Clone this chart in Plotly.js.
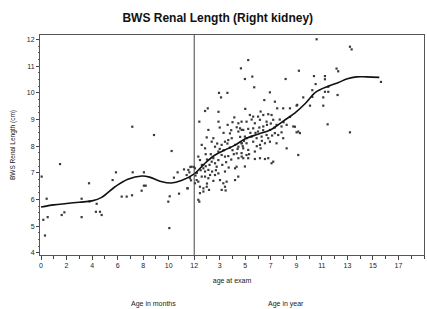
<!DOCTYPE html>
<html>
<head>
<meta charset="utf-8">
<script src="https://cdn.plot.ly/plotly-3.0.1.min.js"></script>
<style>html,body{margin:0;padding:0;background:#fff;}#chart{width:427px;height:309px;}</style>
</head>
<body>
<div id="chart"></div>
<script>
// x scale: months 0-12, then 11 + years
const tickVals = [0,2,4,6,8,10,12,14,16,18,20,22,24,26,28];
const tickText = ['0','2','4','6','8','10','12','3','5','7','9','11','13','15','17'];

const ageX = [
 0.05,1.49,0.44,0.18,0.52,0.31,1.62,1.83,3.18,3.18,3.76,3.8,4.36,4.3,4.62,4.75,5.61,5.87,6.32,6.71,
 7.13,7.15,7.18,7.88,8.06,8.2,8.06,8.85,9.97,10.08,10.05,10.23,10.41,10.7,10.81,11.2,11.49,11.62,11.7,11.75,11.98,
 13.94,14.6,14.1,12.85,13.06,12.4,13.9,13.9,15.14,14.62,15.46,15.33,15.59,15.72,13.11,14.8,15.46,12.98,13.37,14.41,
 14.67,14.94,12.59,12.85,13.63,14.15,15.2,15.46,15.72,13.89,14.15,14.41,14.67,12.32,12.45,13.37,13.63,13.76,13.89,15.33,
 15.46,15.72,15.2,11.8,12.06,11.54,12.72,12.85,13.11,14.41,12.59,12.85,13.11,13.24,13.63,13.89,11.67,11.41,12.19,12.32,
 14.02,14.28,14.54,15.2,11.46,12.06,12.45,12.72,12.98,13.16,14.15,14.41,12.72,12.45,14.46,12.32,12.4,15.45,15.32,
 12.6,13.0,13.3,13.5,14.0,14.3,14.8,15.0,14.6,13.8,14.9,15.6,15.9,
 16.23,15.66,15.97,16.55,16.7,17.93,17.49,18.32,19.16,20.2,18.5,18.97,19.5,20.07,16.36,16.62,17.0,17.41,17.8,18.06,
 15.71,16.1,16.75,17.15,17.67,18.19,18.45,18.84,19.24,19.76,20.15,15.84,16.23,16.62,17.0,17.41,17.93,18.32,18.58,18.84,
 15.97,16.49,16.89,17.28,17.67,15.71,16.1,16.62,17.15,17.54,17.93,18.45,18.97,15.84,16.23,16.75,17.2,15.71,16.1,19.24,
 15.84,16.23,16.75,17.15,17.54,17.8,18.06,18.19,15.97,20.15,20.28,
 21.59,24.2,24.33,21.38,22.24,22.24,23.15,23.28,21.51,22.5,21.25,22.24,22.5,23.23,20.54,21.25,22.11,20.02,21.07,22.11,
 26.63,22.45,24.2,20.02,19.89,
 12.2,12.5,12.9,13.2,13.4,13.7,14.2,14.5,14.9,15.1,15.4,15.8,16.1,16.4,16.8,17.1,17.4,17.7,18.0,18.3,
 16.3,16.9,17.3,17.8,18.1,13.0,13.5,14.7,12.1,12.9,13.5,14.3,14.0,15.0,16.0,16.5,17.2,18.7,19.0,19.5
];
const renalY = [
 6.86,7.33,6.03,5.24,5.34,4.65,5.42,5.52,6.03,5.34,6.61,5.93,5.84,5.54,5.54,5.42,6.73,7.02,6.11,6.11,
 6.16,8.73,7.02,6.33,6.52,6.52,7.02,8.42,5.92,6.12,4.93,7.82,6.82,7.02,6.22,7.13,6.42,7.02,7.22,6.72,7.22,
 10.0,10.0,9.83,9.32,9.42,8.92,9.29,8.92,9.08,8.8,8.86,8.71,8.67,8.61,8.61,8.48,8.55,8.33,8.17,8.17,
 8.23,8.3,8.05,7.92,7.98,8.05,8.05,7.98,8.11,7.8,7.67,7.61,7.63,7.61,7.48,7.42,7.36,7.23,7.48,7.73,
 7.55,7.61,7.17,7.23,7.17,7.11,7.17,7.05,7.11,7.05,6.86,6.86,6.8,6.92,6.92,6.98,6.8,6.92,6.73,6.67,
 6.73,6.61,6.67,6.73,6.42,6.61,6.48,6.42,6.48,6.36,6.36,6.48,6.30,6.24,6.34,5.99,5.92,6.86,7.23,
 7.3,7.5,7.7,7.55,7.9,7.85,7.95,7.85,8.1,8.1,8.6,8.35,8.2,
 11.23,10.92,10.52,10.61,10.21,10.02,9.73,9.67,10.52,10.83,9.42,9.42,9.42,9.55,9.17,9.11,9.11,9.17,9.2,9.17,
 8.92,8.92,8.86,8.99,8.92,8.99,8.8,8.74,8.8,8.74,8.55,8.61,8.65,8.67,8.55,8.74,8.61,8.49,8.42,8.52,
 8.36,8.36,8.3,8.36,8.42,8.11,8.11,8.17,8.05,8.11,8.17,8.11,8.3,7.92,7.86,7.8,7.92,7.74,7.67,7.92,
 7.55,7.55,7.52,7.55,7.52,7.55,7.36,7.42,7.24,7.67,8.49,
 12.01,11.73,11.63,10.63,10.63,10.51,10.91,10.81,10.33,10.23,10.1,10.04,10.04,9.92,9.83,9.85,9.83,9.52,9.52,9.52,
 10.41,8.82,8.52,8.52,8.73,
 7.0,7.1,7.25,7.3,7.05,7.1,7.3,7.4,7.5,7.7,7.9,8.0,8.3,8.5,8.5,8.7,8.6,8.8,8.85,8.7,
 7.7,8.0,8.2,8.3,8.4,6.6,6.7,7.2,6.9,7.7,8.3,8.5,8.7,8.9,9.4,9.0,9.3,9.0,8.9,9.1
];

const fitX = [0,1,2,3,4,4.75,5.8,6.8,7.9,8.5,9.4,10.2,11,12,12.8,13.6,14.4,15.2,16,17,18,19,19.9,20.7,21.5,22.5,23.3,24,24.7,25.5,26.5];
const fitY = [5.72,5.80,5.85,5.90,5.95,6.08,6.48,6.76,6.88,6.84,6.68,6.62,6.71,6.96,7.34,7.66,7.86,8.04,8.28,8.45,8.62,8.95,9.25,9.6,10.02,10.25,10.39,10.53,10.6,10.6,10.58];

const FONT = 'Liberation Sans, Arial, Helvetica, sans-serif';

const traces = [
 {x: ageX, y: renalY, type: 'scatter', mode: 'markers',
  marker: {symbol: 'square', size: 2.2, color: '#3a3a3a'}, hoverinfo: 'x+y'},
 {x: fitX, y: fitY, type: 'scatter', mode: 'lines',
  line: {color: '#111', width: 1.6, shape: 'spline', smoothing: 1}}
];

const layout = {
 width: 427, height: 309,
 margin: {l: 40, r: 3, t: 35, b: 54},
 showlegend: false,
 paper_bgcolor: '#fff', plot_bgcolor: '#fff',
 font: {family: FONT, size: 7, color: '#222'},
 title: {text: '<b>BWS Renal Length (Right kidney)</b>', x: 0.51, xref: 'container', y: 0.942, yanchor: 'middle',
         font: {family: FONT, size: 12, color: '#111'}},
 xaxis: {
  range: [-0.08, 30], tickmode: 'array', tickvals: tickVals, ticktext: tickText,
  ticks: 'outside', ticklen: 4, tickcolor: '#444', tickwidth: 1,
  minor: {tickmode: 'linear', tick0: 0, dtick: 1, ticks: 'outside', ticklen: 2.5, tickcolor: '#444'},
  showgrid: false, zeroline: false, showline: true, linecolor: '#555', linewidth: 1, mirror: true,
  tickfont: {size: 7, color: '#222'},
  title: {text: 'age at exam', standoff: 9, font: {size: 7, color: '#222'}}
 },
 yaxis: {
  range: [3.92, 12.17], tickmode: 'linear', tick0: 4, dtick: 1,
  ticks: 'outside', ticklen: 3, tickcolor: '#444', tickwidth: 1,
  minor: {tickmode: 'linear', tick0: 4, dtick: 0.25, ticks: 'outside', ticklen: 1.5, tickcolor: '#666'},
  showgrid: false, zeroline: false, showline: true, linecolor: '#555', linewidth: 1, mirror: true,
  tickfont: {size: 7, color: '#222'},
  title: {text: 'BWS Renal Length (cm)', standoff: 10, font: {size: 6.5, color: '#222'}}
 },
 shapes: [
  {type: 'line', xref: 'x', yref: 'paper', x0: 12, x1: 12, y0: 0, y1: 1, line: {color: '#444', width: 1}}
 ],
 annotations: [
  {text: 'Age in months', xref: 'paper', yref: 'paper', x: (153-40)/384, y: -(304-255)/220, showarrow: false,
   xanchor: 'center', yanchor: 'middle', font: {size: 7, color: '#222'}},
  {text: 'Age in year', xref: 'paper', yref: 'paper', x: (286-40)/384, y: -(304-255)/220, showarrow: false,
   xanchor: 'center', yanchor: 'middle', font: {size: 7, color: '#222'}}
 ]
};

Plotly.newPlot('chart', traces, layout, {displayModeBar: false, staticPlot: true});
</script>
</body>
</html>
